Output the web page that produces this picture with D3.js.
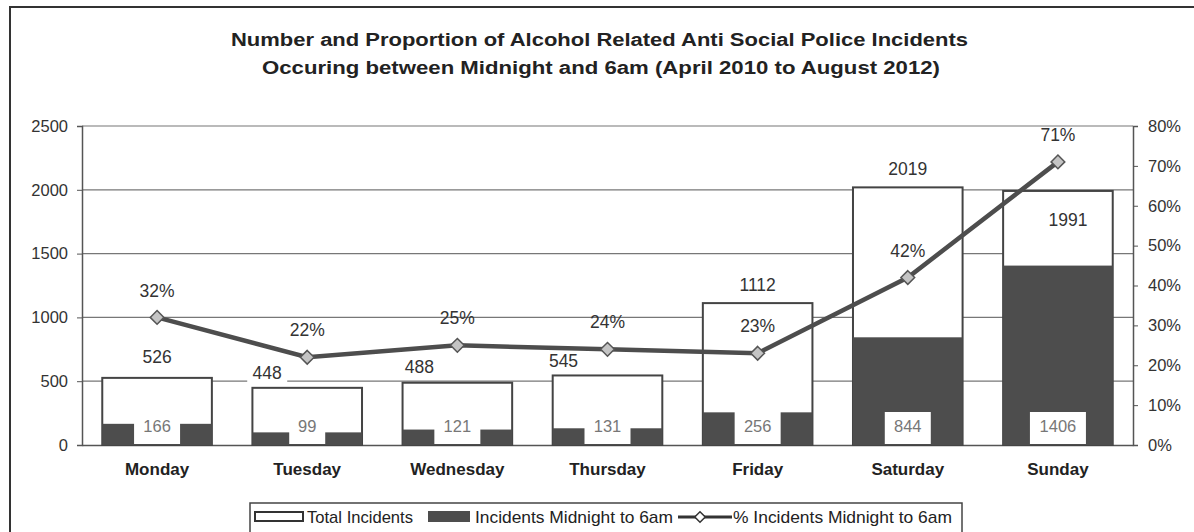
<!DOCTYPE html>
<html>
<head>
<meta charset="utf-8">
<script src="https://cdn.jsdelivr.net/npm/d3@7"></script>
<style>
  body { margin: 0; background: #fff; }
  svg text { font-family: "Liberation Sans", Arial, sans-serif; }
</style>
</head>
<body>
<div class="chart"></div>
<script>
var days = ["Monday", "Tuesday", "Wednesday", "Thursday", "Friday", "Saturday", "Sunday"];
var totalIncidents = [526, 448, 488, 545, 1112, 2019, 1991];
var midnightIncidents = [166, 99, 121, 131, 256, 844, 1406];
var pctMidnight = [0.32, 0.22, 0.25, 0.24, 0.23, 0.42, 0.71];
var leftTicks = [0, 500, 1000, 1500, 2000, 2500];
var rightTicks = [0, 0.1, 0.2, 0.3, 0.4, 0.5, 0.6, 0.7, 0.8];
var titleLines = [
  "Number and Proportion of Alcohol Related Anti Social Police Incidents",
  "Occuring between Midnight and 6am (April 2010 to August 2012)"
];
var legendLabels = ["Total Incidents", "Incidents Midnight to 6am", "% Incidents Midnight to 6am"];

// hand-placed label nudges, like in the original spreadsheet
var totalNudgeX = [0, -40, -38, -44, 0, 0, 10];
var totalNudgeY = [-21, -15, -16, -15, -18, -19, 29];

var svgWidth = 1194;
var svgHeight = 532;
var margin = { top: 126, right: 61, bottom: 87, left: 82 };
var width = svgWidth - margin.left - margin.right;
var height = svgHeight - margin.top - margin.bottom;

var svg = d3.select(".chart")
  .append("svg")
  .attr("width", svgWidth)
  .attr("height", svgHeight);

// outer frame (right and bottom edges fall outside the picture)
svg.append("rect")
  .attr("x", 10).attr("y", 7)
  .attr("width", 1220).attr("height", 560)
  .attr("fill", "none")
  .attr("stroke", "#333")
  .attr("stroke-width", 2);

// title, stretched a bit wide like the scanned original
svg.selectAll(".title")
  .data(titleLines)
  .enter().append("text")
    .attr("class", "title")
    .attr("x", function(d, i) { return i === 0 ? 231 : 262; })
    .attr("y", function(d, i) { return 46 + i * 28; })
    .attr("textLength", function(d, i) { return i === 0 ? 737 : 678; })
    .attr("lengthAdjust", "spacingAndGlyphs")
    .style("font-size", "18px").style("font-weight", "bold").attr("fill", "#222")
    .text(function(d) { return d; });

var chart = svg.append("g")
  .attr("transform", "translate(" + margin.left + "," + margin.top + ")");

var x = d3.scaleBand()
  .domain(days)
  .range([0, width])
  .paddingInner(0.27)
  .paddingOuter(0.135);

var y = d3.scaleLinear().domain([0, 2500]).range([height, 0]);
var y2 = d3.scaleLinear().domain([0, 0.8]).range([height, 0]);

// gridlines
chart.append("g")
  .selectAll("line")
  .data(leftTicks.slice(1))
  .enter().append("line")
    .attr("x1", 0).attr("x2", width)
    .attr("y1", function(d) { return y(d); })
    .attr("y2", function(d) { return y(d); })
    .attr("stroke", "#777")
    .attr("stroke-width", 1.2);

// left axis
var leftAxis = d3.axisLeft(y).tickValues(leftTicks).tickFormat(d3.format("d"))
  .tickSize(5).tickPadding(9);
var gl = chart.append("g").call(leftAxis);
gl.select(".domain").attr("stroke", "#555").attr("stroke-width", 1.5);
gl.selectAll(".tick line").attr("stroke", "#555");
gl.selectAll(".tick text").style("font-size", "16.5px").attr("fill", "#333");

// right axis
var rightAxis = d3.axisRight(y2).tickValues(rightTicks)
  .tickFormat(d3.format(".0%")).tickSize(5).tickPadding(10);
var gr = chart.append("g").attr("transform", "translate(" + width + ",0)").call(rightAxis);
gr.select(".domain").attr("stroke", "#555").attr("stroke-width", 1.5);
gr.selectAll(".tick line").attr("stroke", "#555");
gr.selectAll(".tick text").style("font-size", "16.5px").attr("fill", "#333");

// bottom axis
var bottomAxis = d3.axisBottom(x).tickSize(0).tickPadding(18);
var gb = chart.append("g").attr("transform", "translate(0," + height + ")").call(bottomAxis);
gb.select(".domain").attr("stroke", "#555").attr("stroke-width", 1.5);
gb.selectAll(".tick text").style("font-size", "17px").style("font-weight", "bold").attr("fill", "#222");

// total bars (white, outlined)
chart.selectAll(".total")
  .data(days)
  .enter().append("rect")
    .attr("class", "total")
    .attr("x", function(d) { return x(d); })
    .attr("y", function(d, i) { return y(totalIncidents[i]); })
    .attr("width", x.bandwidth())
    .attr("height", function(d, i) { return height - y(totalIncidents[i]); })
    .attr("fill", "#fff")
    .attr("stroke", "#444")
    .attr("stroke-width", 2);

// midnight bars (dark)
chart.selectAll(".midnight")
  .data(days)
  .enter().append("rect")
    .attr("class", "midnight")
    .attr("x", function(d) { return x(d); })
    .attr("y", function(d, i) { return y(midnightIncidents[i]); })
    .attr("width", x.bandwidth())
    .attr("height", function(d, i) { return height - y(midnightIncidents[i]); })
    .attr("fill", "#4d4d4d");

// total labels with white backing
var tl = chart.selectAll(".tlabel")
  .data(days)
  .enter().append("g")
    .attr("class", "tlabel")
    .attr("transform", function(d, i) {
      return "translate(" + (x(d) + x.bandwidth() / 2 + totalNudgeX[i]) + "," +
        (y(totalIncidents[i]) + totalNudgeY[i]) + ")";
    });
tl.append("rect")
  .attr("x", function(d, i) { return -String(totalIncidents[i]).length * 5 - 5; })
  .attr("y", -11)
  .attr("width", function(d, i) { return String(totalIncidents[i]).length * 10 + 10; })
  .attr("height", 22)
  .attr("fill", "#fff");
tl.append("text")
  .attr("text-anchor", "middle")
  .attr("dy", "0.35em")
  .style("font-size", "17.5px")
  .attr("fill", "#333")
  .text(function(d, i) { return totalIncidents[i]; });

// midnight labels inside bars
var ml = chart.selectAll(".mlabel")
  .data(days)
  .enter().append("g")
    .attr("class", "mlabel")
    .attr("transform", function(d) {
      return "translate(" + (x(d) + x.bandwidth() / 2) + "," + (height - 19) + ")";
    });
ml.append("rect")
  .attr("x", function(d, i) { return -String(midnightIncidents[i]).length * 5 - 8; })
  .attr("y", -14)
  .attr("width", function(d, i) { return String(midnightIncidents[i]).length * 10 + 16; })
  .attr("height", 32)
  .attr("fill", "#fff");
ml.append("text")
  .attr("text-anchor", "middle")
  .attr("dy", "0.35em")
  .style("font-size", "16.5px")
  .attr("fill", "#777")
  .text(function(d, i) { return midnightIncidents[i]; });

// percentage line
var line = d3.line()
  .x(function(d, i) { return x(days[i]) + x.bandwidth() / 2; })
  .y(function(d) { return y2(d); });

chart.append("path")
  .datum(pctMidnight)
  .attr("d", line)
  .attr("fill", "none")
  .attr("stroke", "#4d4d4d")
  .attr("stroke-width", 4.5);

chart.selectAll(".marker")
  .data(pctMidnight)
  .enter().append("path")
    .attr("class", "marker")
    .attr("d", d3.symbol().type(d3.symbolDiamond2).size(120))
    .attr("transform", function(d, i) {
      return "translate(" + (x(days[i]) + x.bandwidth() / 2) + "," + y2(d) + ")";
    })
    .attr("fill", "#c4c4c4")
    .attr("stroke", "#555")
    .attr("stroke-width", 1.5);

chart.selectAll(".plabel")
  .data(pctMidnight)
  .enter().append("text")
    .attr("class", "plabel")
    .attr("x", function(d, i) { return x(days[i]) + x.bandwidth() / 2; })
    .attr("y", function(d) { return y2(d) - 27; })
    .attr("dy", "0.35em")
    .attr("text-anchor", "middle")
    .style("font-size", "17.5px")
    .attr("fill", "#333")
    .text(function(d) { return d3.format(".0%")(d); });

// legend
var legend = svg.append("g").attr("transform", "translate(250,503)");
legend.append("rect")
  .attr("width", 712).attr("height", 40)
  .attr("fill", "#fff").attr("stroke", "#444").attr("stroke-width", 1.5);
legend.append("rect")
  .attr("x", 5).attr("y", 9).attr("width", 48).attr("height", 9)
  .attr("fill", "#fff").attr("stroke", "#333").attr("stroke-width", 2);
legend.append("text")
  .attr("x", 57).attr("y", 20)
  .attr("textLength", 106).attr("lengthAdjust", "spacingAndGlyphs")
  .style("font-size", "17px").attr("fill", "#222")
  .text(legendLabels[0]);
legend.append("rect")
  .attr("x", 178).attr("y", 8).attr("width", 42).attr("height", 11)
  .attr("fill", "#4d4d4d");
legend.append("text")
  .attr("x", 225).attr("y", 20)
  .attr("textLength", 198).attr("lengthAdjust", "spacingAndGlyphs")
  .style("font-size", "17px").attr("fill", "#222")
  .text(legendLabels[1]);
legend.append("line")
  .attr("x1", 428).attr("x2", 482).attr("y1", 14).attr("y2", 14)
  .attr("stroke", "#333").attr("stroke-width", 3);
legend.append("path")
  .attr("d", d3.symbol().type(d3.symbolDiamond2).size(70))
  .attr("transform", "translate(450,14)")
  .attr("fill", "#fff").attr("stroke", "#333").attr("stroke-width", 1.5);
legend.append("text")
  .attr("x", 483).attr("y", 20)
  .attr("textLength", 219).attr("lengthAdjust", "spacingAndGlyphs")
  .style("font-size", "17px").attr("fill", "#222")
  .text(legendLabels[2]);
</script>
</body>
</html>
